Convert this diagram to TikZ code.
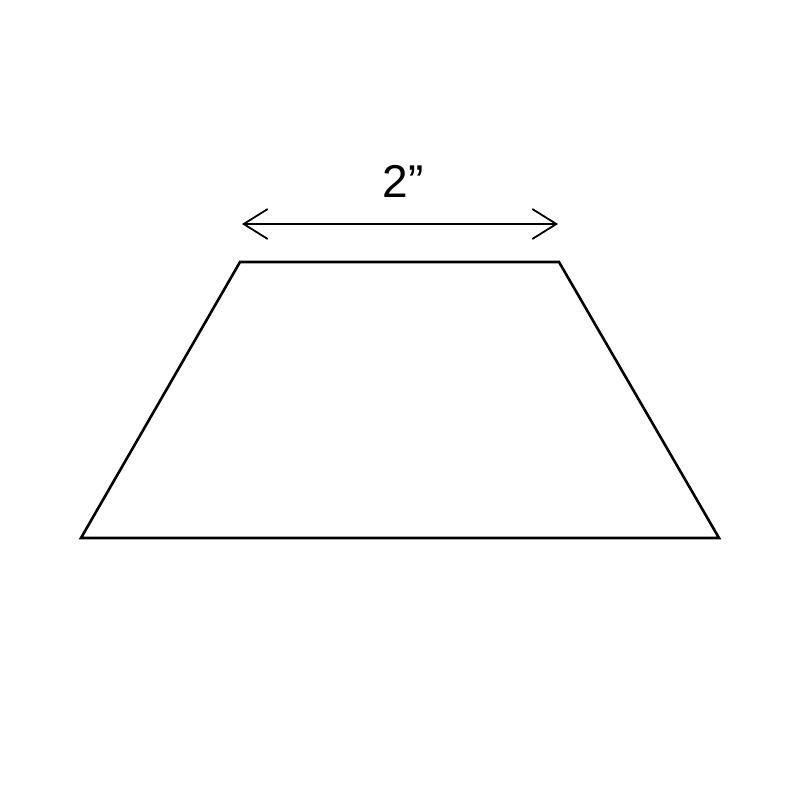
\documentclass[tikz,border=0pt]{standalone}
\usepackage{fontspec}
\setmainfont{Liberation Sans}
\usetikzlibrary{arrows.meta}
\begin{document}
\begin{tikzpicture}[x=1pt,y=-1pt,
  shape line/.style={line width=2.6pt, line join=miter},
  dim line/.style={line width=1.8pt, {Straight Barb[length=24pt,width=30pt,line width=1.8pt]}-{Straight Barb[length=24pt,width=30pt,line width=1.8pt]}},
  lbl/.style={font=\fontsize{46}{50}\selectfont, inner sep=0pt}]
\useasboundingbox (0,0) rectangle (800,800);
\fill[white] (0,0) rectangle (800,800);
\coordinate (tl) at (240,262);
\coordinate (tr) at (559,262);
\coordinate (br) at (719,538);
\coordinate (bl) at (81,538);
\draw[shape line] (tl) -- (tr) -- (br) -- (bl) -- cycle;
\coordinate (al) at (242,224);
\coordinate (ar) at (558,224);
\draw[dim line] (al) -- (ar);
\node[lbl] (w) at (403,181) {2”};
\end{tikzpicture}
\end{document}
